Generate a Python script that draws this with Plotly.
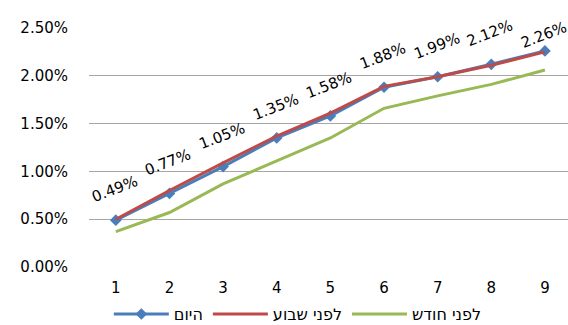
import plotly.graph_objects as go

# Periods on the x axis
periods = [1, 2, 3, 4, 5, 6, 7, 8, 9]

# Yield curves (fractions)
today = [0.0049, 0.0077, 0.0105, 0.0135, 0.0158, 0.0188, 0.0199, 0.0212, 0.0226]
week_ago = [0.0050, 0.0080, 0.0109, 0.0137, 0.0161, 0.0189, 0.0199, 0.0211, 0.0225]
month_ago = [0.0037, 0.0057, 0.0087, 0.0111, 0.0135, 0.0166, 0.0179, 0.0191, 0.0206]

series_names = ["היום", "לפני שבוע", "לפני חודש"]
y_ticks = [0, 0.005, 0.01, 0.015, 0.02, 0.025]

FONT = "DejaVu Sans"

fig = go.Figure()
fig.add_trace(go.Scatter(
    x=periods, y=today, name=series_names[0], mode="lines+markers",
    line=dict(color="#4a7ebb", width=3),
    marker=dict(symbol="diamond", size=9, color="#4a7ebb"),
))
fig.add_trace(go.Scatter(
    x=periods, y=week_ago, name=series_names[1], mode="lines",
    line=dict(color="#be4b48", width=3),
))
fig.add_trace(go.Scatter(
    x=periods, y=month_ago, name=series_names[2], mode="lines",
    line=dict(color="#98b954", width=3),
))

# Rotated value labels above today's curve
for i, (xv, yv) in enumerate(zip(periods, today)):
    fig.add_annotation(
        x=xv, y=yv, xref="x", yref="y",
        text=f"{yv * 100:.2f}%", showarrow=False, textangle=-21,
        yshift=16 if i == len(periods) - 1 else 31,
        xshift=-1,
        font=dict(family=FONT, size=15, color="#000000"),
    )

fig.update_layout(
    width=568, height=325,
    margin=dict(l=89, r=0, t=28, b=58, autoexpand=False),
    paper_bgcolor="white", plot_bgcolor="white",
    font=dict(family=FONT, size=15, color="#000000"),
    showlegend=True,
    legend=dict(
        orientation="h", xref="paper", x=0.436, xanchor="center",
        yref="paper", y=-0.197, yanchor="middle",
        font=dict(family=FONT, size=16),
        itemwidth=55, tracegroupgap=0,
    ),
    xaxis=dict(
        tickmode="array", tickvals=periods, ticktext=[str(p) for p in periods],
        range=[0.5, 9.43], showgrid=False, zeroline=False, showline=False,
        ticks="", ticklabelstandoff=10,
    ),
    yaxis=dict(
        tickmode="array", tickvals=y_ticks, tickformat=".2%",
        range=[0, 0.025], showgrid=True, gridcolor="#a6a6a6", gridwidth=1,
        zeroline=False, showline=False, ticks="", ticklabelstandoff=20,
    ),
)

fig.write_html("out.html")
